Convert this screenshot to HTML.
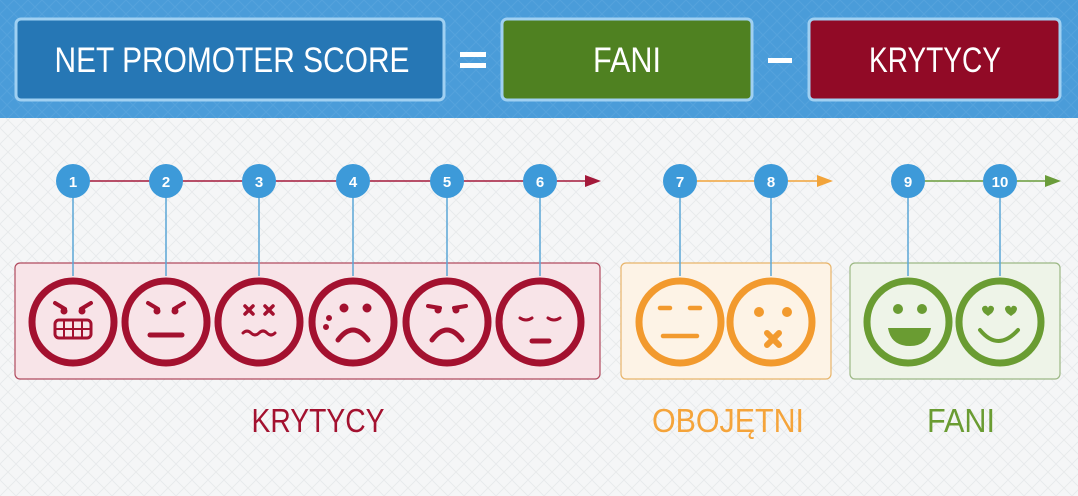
<!DOCTYPE html>
<html><head><meta charset="utf-8"><style>
html,body{margin:0;padding:0;background:#f4f5f6}
svg{display:block}
text{font-family:"Liberation Sans",sans-serif}
</style></head><body>
<svg width="1078" height="496" viewBox="0 0 1078 496" xmlns="http://www.w3.org/2000/svg">
<defs>
<pattern id="hp" width="14" height="14" patternUnits="userSpaceOnUse"><path d="M0 0L14 14M14 0L0 14" stroke="#5ea8e0" stroke-width="1" opacity="0.5"/></pattern>
<pattern id="bp" width="16" height="16" patternUnits="userSpaceOnUse"><path d="M0 0L16 16M16 0L0 16" stroke="#e8eaec" stroke-width="1"/></pattern>
</defs>
<rect x="0" y="0" width="1078" height="496" fill="#f5f6f7"/>
<rect x="0" y="118" width="1078" height="378" fill="url(#bp)"/>
<rect x="0" y="0" width="1078" height="118" fill="#4a9cd9"/>
<rect x="0" y="0" width="1078" height="118" fill="url(#hp)"/>
<!-- header boxes -->
<rect x="16" y="19" width="428" height="81" rx="5" fill="#2677b5" stroke="#9fd0f2" stroke-width="3"/>
<text x="232" y="72" font-size="35" fill="#fff" text-anchor="middle" textLength="355" lengthAdjust="spacingAndGlyphs">NET PROMOTER SCORE</text>
<rect x="460" y="52" width="26" height="5" fill="#fff"/><rect x="460" y="63" width="26" height="5" fill="#fff"/>
<rect x="502" y="19" width="250" height="81" rx="5" fill="#4f8121" stroke="#9fd0f2" stroke-width="3"/>
<text x="627" y="72" font-size="35" fill="#fff" text-anchor="middle" textLength="68" lengthAdjust="spacingAndGlyphs">FANI</text>
<rect x="768" y="58" width="24" height="5" fill="#fff"/>
<rect x="809" y="19" width="251" height="81" rx="5" fill="#910a26" stroke="#9fd0f2" stroke-width="3"/>
<text x="935" y="72" font-size="35" fill="#fff" text-anchor="middle" textLength="132" lengthAdjust="spacingAndGlyphs">KRYTYCY</text>

<!-- group boxes -->
<rect x="15" y="263" width="585" height="116" rx="5" fill="#f8e4e8" stroke="#b04a5e" stroke-width="1.2"/>
<rect x="621" y="263" width="210" height="116" rx="5" fill="#fdf3e6" stroke="#e8b46a" stroke-width="1.2"/>
<rect x="850" y="263" width="210" height="116" rx="5" fill="#eef4e8" stroke="#9cb884" stroke-width="1.2"/>

<!-- arrow lines -->
<line x1="73" y1="181" x2="590" y2="181" stroke="#a3193a" stroke-width="1.5"/>
<path d="M585 175L601 181L585 187Z" fill="#a3193a"/>
<line x1="680" y1="181" x2="822" y2="181" stroke="#f2a43a" stroke-width="1.5"/>
<path d="M817 175L833 181L817 187Z" fill="#f2a43a"/>
<line x1="908" y1="181" x2="1050" y2="181" stroke="#6a9c3a" stroke-width="1.5"/>
<path d="M1045 175L1061 181L1045 187Z" fill="#6a9c3a"/>

<g stroke="#5aa6d6" stroke-width="1.5">
<line x1="73" y1="181" x2="73" y2="276"/><line x1="166" y1="181" x2="166" y2="276"/><line x1="259" y1="181" x2="259" y2="276"/><line x1="353" y1="181" x2="353" y2="276"/><line x1="447" y1="181" x2="447" y2="276"/><line x1="540" y1="181" x2="540" y2="276"/>
<line x1="680" y1="181" x2="680" y2="276"/><line x1="771" y1="181" x2="771" y2="276"/><line x1="908" y1="181" x2="908" y2="276"/><line x1="1000" y1="181" x2="1000" y2="276"/>
</g>
<g fill="#3d9ad9">
<circle cx="73" cy="181" r="17"/><circle cx="166" cy="181" r="17"/><circle cx="259" cy="181" r="17"/><circle cx="353" cy="181" r="17"/><circle cx="447" cy="181" r="17"/><circle cx="540" cy="181" r="17"/>
<circle cx="680" cy="181" r="17"/><circle cx="771" cy="181" r="17"/><circle cx="908" cy="181" r="17"/><circle cx="1000" cy="181" r="17"/>
</g>
<g fill="#fff" font-size="15" font-weight="bold" text-anchor="middle">
<text x="73" y="187">1</text><text x="166" y="187">2</text><text x="259" y="187">3</text><text x="353" y="187">4</text><text x="447" y="187">5</text><text x="540" y="187">6</text>
<text x="680" y="187">7</text><text x="771" y="187">8</text><text x="908" y="187">9</text><text x="1000" y="187">10</text>
</g>

<!-- faces red -->
<g fill="none" stroke="#a3112f" stroke-width="7">
<circle cx="73" cy="322" r="41"/><circle cx="166" cy="322" r="41"/><circle cx="259" cy="322" r="41"/><circle cx="353" cy="322" r="41"/><circle cx="447" cy="322" r="41"/><circle cx="540" cy="322" r="41"/>
</g>
<g stroke="#a3112f" fill="#a3112f" stroke-linecap="round">
<path d="M55 303L65 309M91 303L81 309" stroke-width="4"/>
<circle cx="64" cy="311" r="3"/><circle cx="82" cy="311" r="3"/>
<rect x="55" y="320" width="36" height="18" rx="4" fill="none" stroke-width="3"/>
<path d="M55 329H91M64 320V338M73 320V338M82 320V338" stroke-width="2"/>
<path d="M148 303L158 309M184 303L174 309" stroke-width="4"/>
<circle cx="157" cy="311" r="3"/><circle cx="175" cy="311" r="3"/>
<path d="M150 335H182" stroke-width="5"/>
<path d="M245 306L253 314M253 306L245 314M265 306L273 314M273 306L265 314" stroke-width="3.5"/>
<path d="M243 333q4 -4 8 0t8 0t8 0t8 0" fill="none" stroke-width="3"/>
<circle cx="344" cy="308" r="4"/><circle cx="367" cy="308" r="4"/>
<circle cx="329" cy="318" r="2.5"/><circle cx="326" cy="327" r="2.5"/>
<path d="M338 340q15 -20 30 0" fill="none" stroke-width="5"/>
<path d="M428 306l12 2M466 306l-12 2" stroke-width="4"/>
<circle cx="438" cy="310" r="3"/><circle cx="456" cy="310" r="3"/>
<path d="M432 340q15 -20 30 0" fill="none" stroke-width="5"/>
<path d="M520 318q6 4 12 0M548 318q6 4 12 0" fill="none" stroke-width="3"/>
<path d="M532 341H549" stroke-width="5"/>
</g>

<!-- orange -->
<g fill="none" stroke="#f29a2e" stroke-width="7">
<circle cx="680" cy="322" r="41"/><circle cx="771" cy="322" r="41"/>
</g>
<g stroke="#f29a2e" fill="#f29a2e" stroke-linecap="round">
<path d="M660 308H670M690 308H700M663 336H697" stroke-width="4.5"/>
<circle cx="759" cy="312" r="4.5"/><circle cx="787" cy="312" r="4.5"/>
<path d="M767 333L779 345M779 333L767 345" stroke-width="6"/>
</g>

<!-- green -->
<g fill="none" stroke="#6a9c32" stroke-width="7">
<circle cx="908" cy="322" r="41"/><circle cx="1000" cy="322" r="41"/>
</g>
<g stroke="none" fill="#6a9c32">
<circle cx="898" cy="309" r="5"/><circle cx="922" cy="309" r="5"/>
<path d="M888 328H931q-3 18 -21 18q-19 0 -22 -18Z"/>
<path d="M984 313q-4 -5 0 -7q3 -1 4 2q1 -3 4 -2q4 2 0 7l-4 3Z"/>
<path d="M1007 313q-4 -5 0 -7q3 -1 4 2q1 -3 4 -2q4 2 0 7l-4 3Z"/>
<path d="M980 330q18 22 38 0" fill="none" stroke="#6a9c32" stroke-width="4" stroke-linecap="round"/>
</g>

<!-- labels -->
<text x="318" y="432" font-size="33" fill="#a3112f" text-anchor="middle" textLength="133" lengthAdjust="spacingAndGlyphs">KRYTYCY</text>
<text x="728" y="432" font-size="33" fill="#f5a43a" text-anchor="middle" textLength="152" lengthAdjust="spacingAndGlyphs">OBOJĘTNI</text>
<text x="961" y="432" font-size="33" fill="#6a9c32" text-anchor="middle" textLength="68" lengthAdjust="spacingAndGlyphs">FANI</text>
</svg>
</body></html>
